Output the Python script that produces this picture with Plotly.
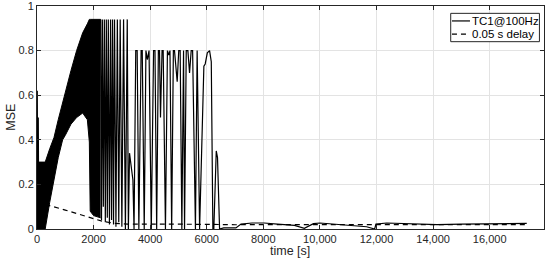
import plotly.graph_objects as go

# dense start-up band (too many oscillations to resolve): envelope values
band_t = [0, 290, 450, 600, 750, 906, 1000, 1200, 1400, 1615, 1780, 1850, 1880, 2000, 2250]
band_hi = [0.30, 0.30, 0.36, 0.41, 0.49, 0.57, 0.61, 0.71, 0.80, 0.88, 0.92, 0.94, 0.94, 0.94, 0.94]
band_lo = [0.0, 0.0, 0.12, 0.22, 0.32, 0.40, 0.42, 0.47, 0.50, 0.52, 0.49, 0.39, 0.08, 0.06, 0.05]

# TC1@100Hz, peaks/troughs
tc1_t = [0, 10, 25, 45, 60, 200, 2250,
         2280, 2310, 2345, 2380, 2415, 2450, 2485, 2520,
         2560, 2600, 2635, 2670, 2705, 2740, 2790, 2840, 2890, 2940, 3000,
         3060, 3125, 3190, 3230,
         3270, 3390, 3430, 3490, 3540, 3600, 3680, 3720, 3790, 3850, 3900,
         3960, 4040, 4120, 4170, 4230, 4290, 4330, 4365, 4420, 4460, 4540,
         4610, 4660, 4700, 4760, 4820, 4860, 4955, 5010, 5060, 5120, 5180,
         5215, 5275, 5333, 5392, 5450, 5500, 5600, 5660, 5747, 5898, 5945,
         6020, 6100, 6160, 6216, 6250, 6336, 6380,
         6453, 6600, 7030, 7210, 7600, 8030, 8500, 9100, 9450, 9770, 10000,
         10590, 11650, 11935, 11980, 12360, 13000, 14140, 15000, 16000,
         17000, 17310]
tc1_y = [0.0, 0.62, 0.05, 0.50, 0.10, 0.25, 0.94,
         0.04, 0.94, 0.10, 0.94, 0.03, 0.94, 0.05, 0.94,
         0.02, 0.94, 0.04, 0.94, 0.02, 0.94, 0.01, 0.94, 0.03, 0.94, 0.01,
         0.94, 0.0, 0.94, 0.0,
         0.34, 0.22, 0.0, 0.80, 0.80, 0.0, 0.80, 0.80, 0.0, 0.80, 0.76,
         0.80, 0.0, 0.80, 0.80, 0.0, 0.80, 0.80, 0.50, 0.80, 0.80, 0.0,
         0.80, 0.78, 0.80, 0.0, 0.80, 0.80, 0.66, 0.80, 0.80, 0.0, 0.80,
         0.0, 0.80, 0.80, 0.70, 0.80, 0.80, 0.0, 0.80, 0.0, 0.73, 0.74,
         0.79, 0.80, 0.75, 0.0, 0.0, 0.35, 0.32,
         0.0, 0.005, 0.005, 0.022, 0.027, 0.027, 0.022, 0.016, 0.003, 0.024, 0.027,
         0.022, 0.010, 0.0, 0.022, 0.027, 0.025, 0.020, 0.022, 0.023,
         0.024, 0.025]

# 0.05 s delay
delay_t = [0, 300, 1000, 2000, 2300, 2700, 3200, 4000, 5000, 6000, 6600,
           7000, 8000, 9000, 10000, 11000, 12000, 14000, 16000, 17310]
delay_y = [0.124, 0.11, 0.085, 0.047, 0.035, 0.026, 0.022, 0.022, 0.023, 0.021,
           0.020, 0.019, 0.020, 0.020, 0.020, 0.021, 0.020, 0.019, 0.020, 0.020]

x_ticks = [0, 2000, 4000, 6000, 8000, 10000, 12000, 14000, 16000]
x_labels = ['0', '2000', '4000', '6000', '8000', '10,000', '12,000', '14,000', '16,000']
y_ticks = [0, 0.2, 0.4, 0.6, 0.8, 1]
y_labels = ['0', '0.2', '0.4', '0.6', '0.8', '1']
legend_names = ['TC1@100Hz', '0.05 s delay']

ink = '#262626'
dash = '5px,4px'

fig = go.Figure()
fig.add_trace(go.Scatter(x=band_t, y=band_lo, mode='lines',
                         line=dict(color='black', width=1), hoverinfo='skip'))
fig.add_trace(go.Scatter(x=band_t, y=band_hi, mode='lines', fill='tonexty',
                         fillcolor='black', line=dict(color='black', width=1),
                         hoverinfo='skip'))
fig.add_trace(go.Scatter(x=tc1_t, y=tc1_y, mode='lines', name=legend_names[0],
                         line=dict(color='black', width=1.2)))
fig.add_trace(go.Scatter(x=delay_t, y=delay_y, mode='lines', name=legend_names[1],
                         line=dict(color='black', width=1.2, dash=dash)))

axis = dict(showline=True, linecolor=ink, linewidth=1, mirror='ticks',
            ticks='inside', ticklen=4, tickcolor=ink, showgrid=True,
            gridcolor='#e3e3e3', gridwidth=1, zeroline=False, automargin=False,
            ticklabeloverflow='allow', tickfont=dict(size=11, color=ink))

fig.update_xaxes(axis, range=[0, 17920], tickvals=x_ticks, ticktext=x_labels)
fig.update_yaxes(axis, range=[0, 1], tickvals=y_ticks, ticktext=y_labels)

# axis titles placed like the MATLAB original
fig.add_annotation(text='time [s]', xref='paper', yref='paper', x=0.499, y=-0.099,
                   xanchor='center', yanchor='middle', showarrow=False,
                   font=dict(size=12.5, color=ink))
fig.add_annotation(text='MSE', xref='paper', yref='paper', x=-0.053, y=0.5,
                   xanchor='center', yanchor='middle', showarrow=False, textangle=-90,
                   font=dict(size=12.5, color=ink))

# MATLAB-style compact legend box in the top right corner
fig.add_shape(type='rect', xref='paper', yref='paper', x0=0.816, x1=0.991,
              y0=0.840, y1=0.967, line=dict(color=ink, width=1), fillcolor='white',
              layer='above')
fig.add_shape(type='line', xref='paper', yref='paper', x0=0.8185, x1=0.854,
              y0=0.933, y1=0.933, line=dict(color='black', width=1.2), layer='above')
fig.add_shape(type='line', xref='paper', yref='paper', x0=0.8185, x1=0.854,
              y0=0.874, y1=0.874, line=dict(color='black', width=1.2, dash=dash),
              layer='above')
for name, yy in zip(legend_names, [0.933, 0.874]):
    fig.add_annotation(text=name, xref='paper', yref='paper', x=0.855, y=yy,
                       xanchor='left', yanchor='middle', showarrow=False,
                       font=dict(size=11.5, color='black'))

fig.update_layout(
    width=550, height=267,
    margin=dict(l=37, r=6, t=6, b=38),
    paper_bgcolor='white', plot_bgcolor='white',
    font=dict(family='Liberation Sans, Arial, sans-serif', size=11, color=ink),
    showlegend=False,
)

fig.write_html("out.html", config={'displayModeBar': False},
               post_script="document.body.style.margin='0';")
